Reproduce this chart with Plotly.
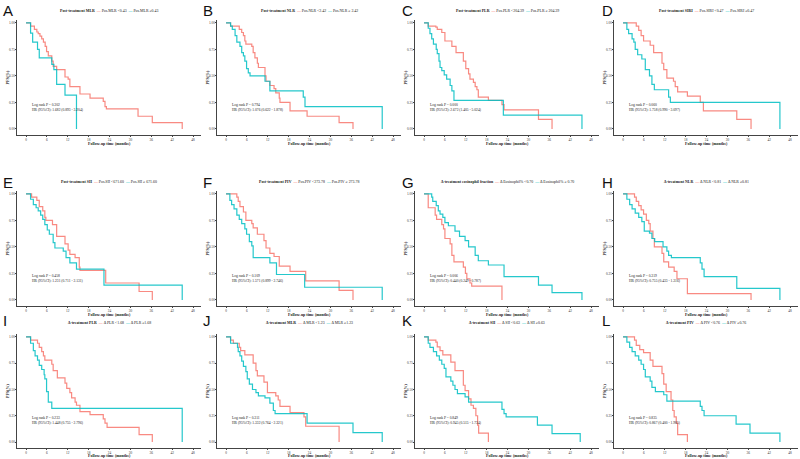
import plotly.graph_objects as go

RED = "#F8766D"
TEAL = "#00BFC4"
SERIF = "Liberation Serif"

letters = ["A", "B", "C", "D", "E", "F", "G", "H", "I", "J", "K", "L"]

legend_titles = {
    "A": "Post-treatment MLR", "B": "Post-treatment NLR", "C": "Post-treatment PLR",
    "D": "Post-treatment SIRI", "E": "Post-treatment SII", "F": "Post-treatment PIV",
    "G": "Δ-treatment eosinophil fraction", "H": "Δ-treatment NLR", "I": "Δ-treatment PLR",
    "J": "Δ-treatment MLR", "K": "Δ-treatment SII", "L": "Δ-treatment PIV",
}
red_labels = {
    "A": "Pos.MLR <0.43", "B": "Pos.NLR <2.42", "C": "Pos.PLR <204.39", "D": "Pos.SIRI <0.47",
    "E": "Pos.SII <671.60", "F": "Pos.PIV <273.78", "G": "Δ Eosinophil% <0.70", "H": "Δ NLR <0.81",
    "I": "Δ PLR <1.68", "J": "Δ MLR <1.23", "K": "Δ SII <0.63", "L": "Δ PIV <0.76",
}
teal_labels = {
    "A": "Pos.MLR ≥0.43", "B": "Pos.NLR ≥ 2.42", "C": "Pos.PLR ≥ 204.39", "D": "Pos.SIRI ≥0.47",
    "E": "Pos.SII ≥ 671.60", "F": "Pos.PIV ≥ 273.78", "G": "Δ Eosinophil% ≥ 0.70", "H": "Δ NLR ≥0.81",
    "I": "Δ PLR ≥1.68", "J": "Δ MLR ≥1.23", "K": "Δ SII ≥0.63", "L": "Δ PIV ≥0.76",
}
logrank_p = {
    "A": "0.302", "B": "0.794", "C": "0.000", "D": "0.060", "E": "0.458", "F": "0.109",
    "G": "0.006", "H": "0.319", "I": "0.233", "J": "0.311", "K": "0.849", "L": "0.835",
}
hr_text = {
    "A": "1.682 (0.893 - 3.204)", "B": "1.076 (0.622 - 1.878)", "C": "2.672 (1.405 - 5.024)",
    "D": "1.758 (0.990 - 3.097)", "E": "1.231 (0.711 - 2.131)", "F": "1.571 (0.899 - 2.746)",
    "G": "0.440 (0.249 - 0.787)", "H": "0.755 (0.433 - 1.316)", "I": "1.448 (0.755 - 2.796)",
    "J": "1.332 (0.764 - 2.321)", "K": "0.945 (0.515 - 1.734)", "L": "0.867 (0.400 - 1.905)",
}

red_time = {
    "A": [0, 1.3, 2.4, 3.1, 3.5, 4.0, 4.5, 5.0, 5.5, 5.9, 6.4, 7.4, 7.8, 8.8, 11.2, 12.1, 12.6, 15.5, 18.4, 22.2, 22.7, 23.1, 32.2, 36.3, 44.9],
    "B": [0, 1.3, 3.8, 4.5, 5.0, 5.4, 5.7, 7.4, 7.8, 8.3, 9.0, 9.3, 11.2, 11.5, 12.6, 13.8, 14.3, 15.3, 15.5, 18.4, 23.3, 32.5, 36.5],
    "C": [0, 1.2, 3.4, 3.8, 5.1, 6.0, 8.0, 9.2, 11.3, 12.0, 12.8, 13.2, 14.2, 14.7, 15.2, 15.6, 18.5, 22.4, 23.0, 32.9, 36.8],
    "D": [0, 3.8, 4.5, 5.2, 5.9, 7.8, 8.8, 11.2, 11.7, 12.6, 14.5, 15.0, 15.7, 18.5, 22.2, 23.1, 32.7, 36.8],
    "E": [0, 1.6, 3.1, 3.8, 4.8, 5.4, 5.7, 7.6, 8.8, 11.2, 12.1, 12.6, 14.1, 15.3, 15.5, 22.9, 32.5, 36.3],
    "F": [0, 3.1, 3.5, 4.0, 5.0, 5.7, 7.4, 7.8, 9.0, 10.9, 11.5, 12.6, 13.8, 15.3, 18.4, 22.9, 32.5, 36.5],
    "G": [0, 1.2, 3.2, 3.6, 5.1, 5.6, 6.0, 7.5, 8.0, 8.6, 11.3, 11.9, 12.3, 13.2, 13.7, 22.4],
    "H": [0, 3.3, 3.8, 4.5, 5.2, 5.9, 6.7, 7.4, 7.8, 8.6, 9.0, 11.2, 11.7, 13.1, 14.7, 15.5, 18.5, 36.8],
    "I": [0, 1.3, 3.3, 3.8, 4.5, 5.0, 5.4, 7.4, 7.8, 9.0, 11.2, 11.7, 12.6, 13.1, 14.1, 14.5, 15.5, 18.4, 22.2, 22.7, 23.3, 32.5, 36.3],
    "J": [0, 1.3, 2.1, 3.8, 4.2, 5.4, 7.8, 8.6, 9.0, 10.9, 11.9, 14.3, 15.0, 15.5, 18.4, 22.4, 22.9, 32.5],
    "K": [0, 1.2, 3.4, 3.8, 4.6, 5.4, 7.7, 8.9, 11.3, 11.8, 12.8, 13.5, 14.2, 14.9, 15.4, 15.7, 18.5],
    "L": [0, 3.3, 3.8, 4.8, 5.9, 7.8, 8.6, 11.2, 11.7, 12.4, 13.8, 14.3, 14.7, 15.3, 15.7, 18.5],
}
red_surv = {
    "A": [1, 0.97, 0.94, 0.915, 0.90, 0.875, 0.85, 0.82, 0.78, 0.73, 0.69, 0.64, 0.59, 0.56, 0.49, 0.47, 0.40, 0.33, 0.29, 0.26, 0.21, 0.19, 0.12, 0.06, 0],
    "B": [1, 0.97, 0.94, 0.91, 0.88, 0.83, 0.80, 0.78, 0.72, 0.67, 0.62, 0.58, 0.50, 0.45, 0.41, 0.38, 0.34, 0.29, 0.25, 0.17, 0.12, 0.06, 0],
    "C": [1, 0.97, 0.96, 0.94, 0.91, 0.83, 0.78, 0.72, 0.64, 0.57, 0.52, 0.47, 0.44, 0.40, 0.37, 0.30, 0.27, 0.23, 0.18, 0.09, 0],
    "D": [1, 0.97, 0.93, 0.88, 0.83, 0.79, 0.72, 0.62, 0.56, 0.48, 0.45, 0.40, 0.35, 0.31, 0.25, 0.17, 0.09, 0],
    "E": [1, 0.97, 0.94, 0.88, 0.84, 0.78, 0.75, 0.71, 0.60, 0.53, 0.47, 0.43, 0.40, 0.31, 0.28, 0.16, 0.08, 0],
    "F": [1, 0.97, 0.93, 0.88, 0.83, 0.75, 0.72, 0.68, 0.62, 0.56, 0.49, 0.44, 0.41, 0.32, 0.27, 0.18, 0.09, 0],
    "G": [1, 0.87, 0.80, 0.76, 0.71, 0.67, 0.58, 0.53, 0.42, 0.36, 0.31, 0.25, 0.20, 0.16, 0.13, 0],
    "H": [1, 0.97, 0.93, 0.89, 0.85, 0.81, 0.75, 0.72, 0.65, 0.58, 0.50, 0.44, 0.36, 0.31, 0.27, 0.20, 0.06, 0],
    "I": [1, 0.97, 0.94, 0.90, 0.86, 0.82, 0.78, 0.74, 0.68, 0.61, 0.56, 0.51, 0.47, 0.42, 0.38, 0.35, 0.29, 0.26, 0.22, 0.18, 0.14, 0.07, 0],
    "J": [1, 0.97, 0.94, 0.90, 0.87, 0.83, 0.75, 0.68, 0.63, 0.57, 0.47, 0.44, 0.40, 0.34, 0.28, 0.24, 0.15, 0],
    "K": [1, 0.97, 0.95, 0.905, 0.87, 0.83, 0.76, 0.68, 0.54, 0.49, 0.41, 0.35, 0.32, 0.25, 0.16, 0.085, 0],
    "L": [1, 0.97, 0.92, 0.88, 0.85, 0.78, 0.72, 0.65, 0.55, 0.48, 0.40, 0.30, 0.24, 0.18, 0.07, 0],
}
teal_time = {
    "A": [0, 1.3, 1.9, 3.3, 3.8, 7.4, 8.0, 8.8, 11.2, 14.5],
    "B": [0, 1.3, 1.8, 2.6, 3.1, 4.0, 4.5, 5.0, 5.4, 5.9, 6.4, 6.9, 11.2, 12.6, 22.2, 22.7, 44.9],
    "C": [0, 1.2, 1.7, 2.2, 2.7, 3.5, 3.8, 4.3, 4.6, 5.1, 5.8, 6.5, 7.5, 8.0, 8.6, 22.8, 45.4],
    "D": [0, 1.1, 1.6, 2.6, 3.1, 3.5, 4.2, 5.4, 6.4, 7.6, 8.3, 9.0, 13.1, 13.6, 45.1],
    "E": [0, 1.3, 2.1, 2.9, 3.5, 4.2, 4.8, 5.4, 6.1, 6.7, 7.8, 8.3, 10.7, 11.5, 12.6, 14.5, 22.4, 44.9],
    "F": [0, 1.1, 1.6, 2.3, 3.1, 3.8, 4.5, 5.4, 5.9, 6.7, 7.4, 7.8, 12.6, 14.5, 22.6, 44.9],
    "G": [0, 2.2, 2.5, 3.5, 4.1, 4.6, 5.4, 6.0, 7.0, 8.9, 10.2, 11.8, 12.8, 14.7, 15.6, 18.5, 23.0, 32.9, 36.8, 45.4],
    "H": [0, 1.1, 1.9, 2.6, 3.5, 4.5, 5.4, 6.1, 7.6, 8.3, 9.1, 11.5, 12.6, 13.1, 13.9, 22.2, 22.7, 23.3, 32.7, 45.1],
    "I": [0, 1.3, 2.1, 2.6, 3.3, 3.8, 4.5, 5.2, 5.4, 5.9, 6.4, 7.4, 44.9],
    "J": [0, 1.3, 3.3, 3.5, 4.0, 4.5, 5.0, 5.7, 6.1, 6.7, 7.6, 8.6, 9.3, 11.2, 12.6, 13.6, 14.1, 23.3, 36.5, 44.9],
    "K": [0, 1.2, 1.7, 2.7, 3.6, 4.4, 5.1, 5.8, 6.3, 7.7, 8.3, 8.9, 9.6, 11.8, 12.8, 22.4, 23.0, 23.6, 32.6, 36.8, 44.9],
    "L": [0, 1.1, 1.9, 2.6, 3.5, 4.5, 5.2, 5.9, 6.4, 7.8, 8.3, 9.3, 11.7, 12.6, 22.2, 22.7, 23.3, 32.5, 36.5, 45.1],
}
teal_surv = {
    "A": [1, 0.905, 0.82, 0.75, 0.67, 0.61, 0.56, 0.42, 0.32, 0],
    "B": [1, 0.97, 0.94, 0.88, 0.82, 0.78, 0.72, 0.69, 0.64, 0.57, 0.53, 0.50, 0.45, 0.36, 0.30, 0.21, 0],
    "C": [1, 0.95, 0.90, 0.85, 0.80, 0.75, 0.71, 0.64, 0.58, 0.55, 0.51, 0.47, 0.41, 0.36, 0.27, 0.13, 0],
    "D": [1, 0.94, 0.90, 0.85, 0.82, 0.75, 0.70, 0.66, 0.56, 0.50, 0.42, 0.37, 0.30, 0.25, 0],
    "E": [1, 0.95, 0.90, 0.87, 0.84, 0.80, 0.76, 0.71, 0.66, 0.62, 0.54, 0.49, 0.46, 0.40, 0.35, 0.29, 0.14, 0],
    "F": [1, 0.94, 0.90, 0.86, 0.80, 0.76, 0.72, 0.67, 0.62, 0.55, 0.51, 0.40, 0.35, 0.24, 0.12, 0],
    "G": [1, 0.97, 0.93, 0.89, 0.84, 0.81, 0.78, 0.73, 0.70, 0.65, 0.60, 0.56, 0.50, 0.42, 0.37, 0.33, 0.22, 0.14, 0.07, 0],
    "H": [1, 0.95, 0.90, 0.86, 0.82, 0.78, 0.74, 0.65, 0.63, 0.58, 0.55, 0.50, 0.46, 0.42, 0.40, 0.35, 0.29, 0.22, 0.11, 0],
    "I": [1, 0.94, 0.87, 0.82, 0.78, 0.73, 0.69, 0.64, 0.60, 0.48, 0.38, 0.32, 0],
    "J": [1, 0.94, 0.90, 0.86, 0.82, 0.77, 0.72, 0.67, 0.60, 0.55, 0.50, 0.47, 0.44, 0.42, 0.37, 0.30, 0.27, 0.18, 0.09, 0],
    "K": [1, 0.94, 0.90, 0.86, 0.82, 0.78, 0.74, 0.70, 0.62, 0.58, 0.54, 0.50, 0.46, 0.43, 0.38, 0.31, 0.27, 0.24, 0.16, 0.08, 0],
    "L": [1, 0.95, 0.90, 0.86, 0.82, 0.78, 0.74, 0.69, 0.62, 0.58, 0.52, 0.48, 0.45, 0.39, 0.34, 0.30, 0.25, 0.17, 0.085, 0],
}

x_ticks = [0, 6, 12, 18, 24, 30, 36, 42, 48]
y_ticks = [0, 0.25, 0.5, 0.75, 1.0]
y_ticklabels = ["0.00", "0.25", "0.50", "0.75", "1.00"]

W, H = 800, 459
col_px = [(17, 201), (217, 401), (415, 599), (614, 798)]
row_px = [(20, 135), (191, 306), (334, 448)]
legend_y_px = [11, 182, 323]
letter_y_px = [11, 182, 320]
xtitle_y_px = [143, 314, 455]
XR = [-2.6, 50.3]
YR = [-0.057, 1.028]

fig = go.Figure()
annotations = []
layout_axes = {}

for i, L in enumerate(letters):
    r, c = divmod(i, 4)
    n = i + 1
    xa = "x" if n == 1 else f"x{n}"
    ya = "y" if n == 1 else f"y{n}"
    x0, x1 = col_px[c]
    ytop, ybot = row_px[r]
    xdom = [x0 / W, x1 / W]
    ydom = [1 - ybot / H, 1 - ytop / H]
    axis_common = dict(showgrid=False, zeroline=False, showline=True, linecolor="#444444",
                       linewidth=0.9, ticks="outside", ticklen=1.5, tickwidth=0.6, tickcolor="#444444",
                       ticklabelstandoff=-1,
                       tickfont=dict(family=SERIF, size=3.4, color="#333333"))
    layout_axes["xaxis" if n == 1 else f"xaxis{n}"] = dict(
        domain=xdom, range=XR, tickvals=x_ticks, anchor=ya, **axis_common)
    layout_axes["yaxis" if n == 1 else f"yaxis{n}"] = dict(
        domain=ydom, range=YR, tickvals=y_ticks, ticktext=y_ticklabels, anchor=xa, **axis_common)

    fig.add_trace(go.Scatter(x=red_time[L], y=red_surv[L], mode="lines", line_shape="hv",
                             line=dict(color=RED, width=1.2), xaxis=xa, yaxis=ya,
                             showlegend=False, hoverinfo="skip", opacity=0.85))
    fig.add_trace(go.Scatter(x=teal_time[L], y=teal_surv[L], mode="lines", line_shape="hv",
                             line=dict(color=TEAL, width=1.2), xaxis=xa, yaxis=ya,
                             showlegend=False, hoverinfo="skip", opacity=0.85))

    cx = (x0 + x1) / 2 / W
    annotations.append(dict(
        x=cx, y=1 - legend_y_px[r] / H, xref="paper", yref="paper", showarrow=False,
        xanchor="center", yanchor="middle",
        text=(f"<b>{legend_titles[L]}</b>  <span style='color:{RED}'><b>—</b></span> {red_labels[L]}"
              f"  <span style='color:{TEAL}'><b>—</b></span> {teal_labels[L]}"),
        font=dict(family=SERIF, size=3.9, color="#222222")))
    annotations.append(dict(
        x=(c * 200 + (1 if c < 2 else 0)) / W, y=1 - letter_y_px[r] / H, xref="paper", yref="paper",
        showarrow=False, xanchor="left", yanchor="middle", text=L,
        font=dict(family="Liberation Sans", size=15, color="#111111")))
    annotations.append(dict(
        x=1.0, y=0.205, xref=xa, yref=ya, showarrow=False, xanchor="left", yanchor="middle",
        align="left",
        text=f"Log rank P = {logrank_p[L]}<br>HR (95%CI): {hr_text[L]}",
        font=dict(family=SERIF, size=3.6, color="#222222")))
    annotations.append(dict(
        x=cx, y=1 - xtitle_y_px[r] / H, xref="paper", yref="paper", showarrow=False,
        xanchor="center", yanchor="middle", text="<b>Follow-up time (months)</b>",
        font=dict(family=SERIF, size=4, color="#222222")))
    annotations.append(dict(
        x=(x0 - 10) / W, y=1 - (ytop + ybot) / 2 / H, xref="paper", yref="paper", showarrow=False,
        xanchor="center", yanchor="middle", textangle=-90, text="<b>PFS(%)</b>",
        font=dict(family=SERIF, size=4, color="#222222")))

fig.update_layout(width=W, height=H, margin=dict(l=0, r=0, t=0, b=0),
                  paper_bgcolor="white", plot_bgcolor="white",
                  annotations=annotations, showlegend=False, **layout_axes)

fig.write_html("out.html")
